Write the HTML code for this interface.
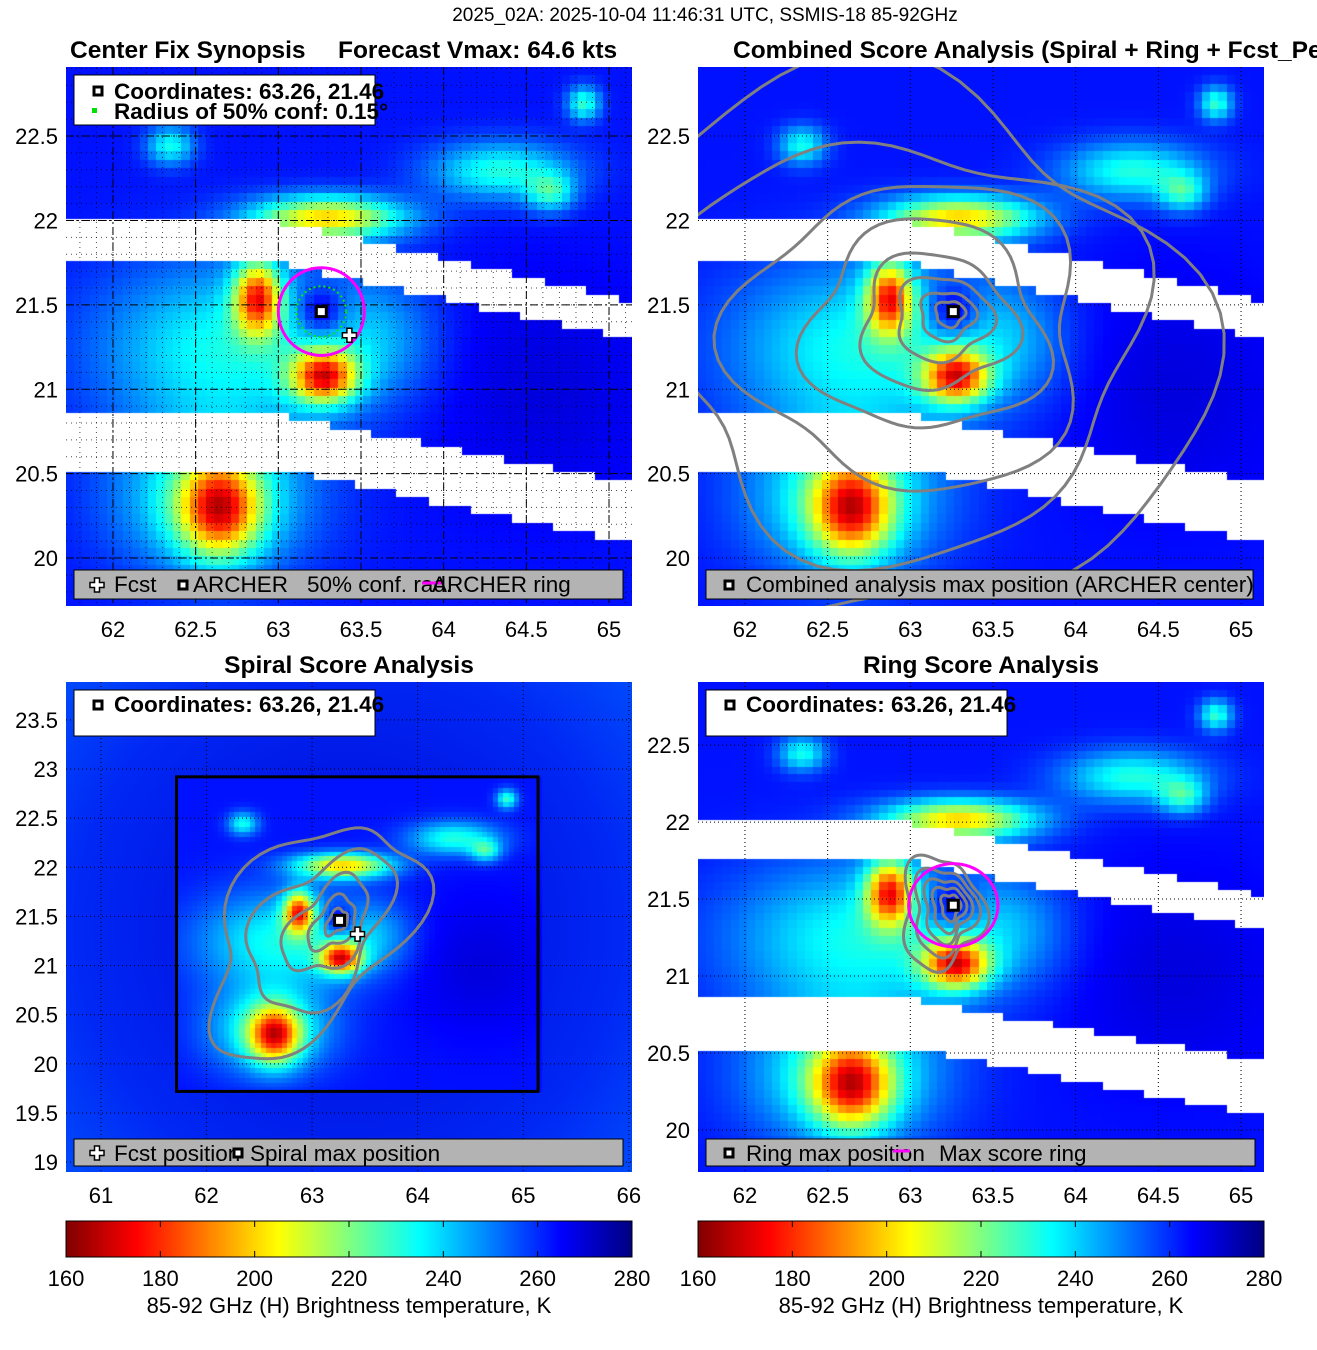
<!DOCTYPE html>
<html><head><meta charset="utf-8">
<style>
body{margin:0;background:#fff;width:1317px;height:1350px;position:relative;overflow:hidden;font-family:"Liberation Sans",sans-serif}
canvas{position:absolute}
svg{position:absolute;left:0;top:0}
</style></head>
<body>
<canvas id="c1" style="left:66px;top:67px" width="566" height="539"></canvas>
<canvas id="c2" style="left:698px;top:67px" width="566" height="539"></canvas>
<canvas id="c3" style="left:66px;top:682px" width="566" height="490"></canvas>
<canvas id="c4" style="left:698px;top:682px" width="566" height="490"></canvas>
<svg id="ov" width="1317" height="1350"></svg>
<script>
// ---- data ----
const baseTb = 263;
const blobLon = [62.7, 64.6, 63.26, 62.88, 63.28, 63.3, 62.65, 62.6, 64.35, 64.65, 64.85, 62.35, 63.6];
const blobLat = [21.25, 21.0, 21.46, 21.55, 21.08, 22.02, 20.3, 20.35, 22.3, 22.17, 22.7, 22.45, 21.3];
const blobDT  = [-30, 6, 22, -70, -75, -62, -65, -32, -32, -28, -34, -30, -15];
const blobSx  = [0.55, 0.5, 0.1, 0.1, 0.14, 0.32, 0.17, 0.4, 0.3, 0.1, 0.07, 0.1, 0.25];
const blobSy  = [0.35, 0.5, 0.1, 0.15, 0.11, 0.09, 0.2, 0.3, 0.12, 0.08, 0.07, 0.08, 0.25];
const gap1Left = [22.0, 21.75], gap1Right = [21.53, 21.3];
const gap2Left = [20.85, 20.53], gap2Right = [20.45, 20.1];
const cbTicks = [160, 180, 200, 220, 240, 260, 280];
const lonTicksA = [62, 62.5, 63, 63.5, 64, 64.5, 65];
const latTicksA = [20, 20.5, 21, 21.5, 22, 22.5];
const lonTicksC = [61, 62, 63, 64, 65, 66];
const latTicksC = [19, 19.5, 20, 20.5, 21, 21.5, 22, 22.5, 23, 23.5];
const latTicksD = [20, 20.5, 21, 21.5, 22, 22.5];
const centerLon = 63.26, centerLat = 21.46;
const fcstLon = 63.43, fcstLat = 21.32;
const contourLevelsB = [0.08, 0.15, 0.26, 0.42, 0.65, 0.95, 1.3, 1.7];
const contourLevelsC = [0.12, 0.25, 0.45, 0.75, 1.1];
const contourLevelsD = [0.07, 0.12, 0.17, 0.23, 0.3];

function field(lon, lat){
  let v = baseTb;
  for(let i=0;i<blobLon.length;i++){
    const dx=(lon-blobLon[i])/blobSx[i], dy=(lat-blobLat[i])/blobSy[i];
    v += blobDT[i]*Math.exp(-0.5*(dx*dx+dy*dy));
  }
  return Math.max(160, Math.min(280, v));
}
function inGap(lon, lat){
  function band(L,R){
    const t = Math.max(0,(lon-63.0)/(65.14-63.0));
    const top = L[0]+(R[0]-L[0])*t, bot = L[1]+(R[1]-L[1])*t;
    return lat<=top && lat>=bot;
  }
  return band(gap1Left,gap1Right)||band(gap2Left,gap2Right);
}
function jet(v){
  const t=(280-v)/120;
  const c=x=>Math.max(0,Math.min(1,x));
  return [c(1.5-Math.abs(4*t-3)),c(1.5-Math.abs(4*t-2)),c(1.5-Math.abs(4*t-1))].map(x=>Math.round(x*255));
}
const P = {
 a:{x:66,y:67,w:566,h:539,lon0:61.716,lon1:65.139,lat0:19.716,lat1:22.909},
 b:{x:698,y:67,w:566,h:539,lon0:61.716,lon1:65.139,lat0:19.716,lat1:22.909},
 c:{x:66,y:682,w:566,h:490,lon0:60.669,lon1:66.03,lat0:18.9,lat1:23.885},
 d:{x:698,y:682,w:566,h:490,lon0:61.716,lon1:65.139,lat0:19.727,lat1:22.91}
};
const sx=(p,lon)=>p.x+(lon-p.lon0)/(p.lon1-p.lon0)*p.w;
const sy=(p,lat)=>p.y+(p.lat1-lat)/(p.lat1-p.lat0)*p.h;

function paint(id,p,gaps){
  const ctx=document.getElementById(id).getContext('2d');
  const step=0.05;
  for(let lon=61.716;lon<65.14;lon+=step){
    for(let lat=19.716;lat<22.91;lat+=step){
      const lc=lon+step/2, la=lat+step/2;
      let col;
      if(gaps&&inGap(lc,la)) col=[255,255,255]; else col=jet(field(lc,la));
      ctx.fillStyle=`rgb(${col})`;
      const x0=sx(p,lon)-p.x, x1=sx(p,lon+step)-p.x, y0=sy(p,lat+step)-p.y, y1=sy(p,lat)-p.y;
      ctx.fillRect(Math.floor(x0),Math.floor(y0),Math.ceil(x1-x0)+1,Math.ceil(y1-y0)+1);
    }
  }
}
(function(){
  const ctx=document.getElementById('c3').getContext('2d');
  const g=ctx.createRadialGradient(283,245,50,283,245,420);
  g.addColorStop(0,'rgb(0,10,220)');g.addColorStop(0.6,'rgb(0,40,245)');g.addColorStop(1,'rgb(0,90,255)');
  ctx.fillStyle=g;ctx.fillRect(0,0,566,490);
})();
paint('c1',P.a,true);paint('c2',P.b,true);paint('c3',P.c,false);paint('c4',P.d,true);

const NS='http://www.w3.org/2000/svg';
const ov=document.getElementById('ov');
function el(tag,attrs,parent){const e=document.createElementNS(NS,tag);for(const k in attrs)e.setAttribute(k,attrs[k]);(parent||ov).appendChild(e);return e;}
function txt(x,y,s,opt){const e=el('text',Object.assign({x:x,y:y,'font-size':22,'font-family':'"Liberation Sans",sans-serif',fill:'#000'},opt||{}));e.textContent=s;return e;}

function axes(p,lonT,latT,name,dashMajor){
  const g=el('g',{});
  
  
  if(dashMajor){
    for(let l=Math.ceil(p.lat0*10)/10;l<p.lat1;l+=0.1){const y=sy(p,l);el('line',{x1:p.x,x2:p.x+p.w,y1:y,y2:y,stroke:'#000','stroke-width':1,'stroke-dasharray':'1 4',opacity:0.7},g);}
    for(let l=Math.ceil(p.lon0*10)/10;l<p.lon1;l+=0.1){const x=sx(p,l);el('line',{y1:p.y,y2:p.y+p.h,x1:x,x2:x,stroke:'#000','stroke-width':1,'stroke-dasharray':'1 4',opacity:0.7},g);}
  }
  lonT.forEach(v=>{const x=sx(p,v);
    el('line',{x1:x,x2:x,y1:p.y,y2:p.y+p.h,stroke:'#000','stroke-width':1,'stroke-dasharray':dashMajor?'8 3 2 3':'1 3'},g);
    const t=txt(x,p.y+p.h+31,String(v),{'text-anchor':'middle'});
    });
  latT.forEach(v=>{const y=sy(p,v);
    el('line',{x1:p.x,x2:p.x+p.w,y1:y,y2:y,stroke:'#000','stroke-width':1,'stroke-dasharray':dashMajor?'8 3 2 3':'1 3'},g);
    const t=txt(p.x-8,y+8,String(v),{'text-anchor':'end'});
    });
}
axes(P.a,lonTicksA,latTicksA,'synopsis',true);
axes(P.b,lonTicksA,latTicksA,'combined',false);
axes(P.c,lonTicksC,latTicksC,'spiral',false);
axes(P.d,lonTicksA,latTicksD,'ring',false);

function contour(p,r,sxs,sys,wob,rot,name){
  let d='';
  const cx=sx(p,centerLon), cy=sy(p,centerLat);
  const kx=p.w/(p.lon1-p.lon0), ky=p.h/(p.lat1-p.lat0);
  for(let i=0;i<=90;i++){
    const a=i/90*2*Math.PI;
    const rr=r*(1+wob*Math.sin(3*a+r*5)+wob*0.6*Math.cos(5*a+r*3));
    let ex=rr*sxs*Math.cos(a), ey=rr*sys*Math.sin(a);
    const X=ex*Math.cos(rot)-ey*Math.sin(rot), Y=ex*Math.sin(rot)+ey*Math.cos(rot);
    const x=cx+X*kx - r*0.25*kx, y=cy-Y*ky + r*0.15*ky;
    d+=(i?'L':'M')+x.toFixed(1)+','+y.toFixed(1);
  }
  const e=el('path',{d:d,fill:'none',stroke:'#808080','stroke-width':3});
  
  
  return e;
}
function clip(id,p){const c=el('clipPath',{id:id});el('rect',{x:p.x,y:p.y,width:p.w,height:p.h},c);}
clip('cb',P.b);clip('cc',P.c);clip('cd',P.d);
contourLevelsB.forEach(r=>{contour(P.b,r,1.1,0.95,0.1,0,'combined-contour').setAttribute('clip-path','url(#cb)');});
contourLevelsC.forEach(r=>{contour(P.c,r,0.7,1.2,0.14,-0.6,'spiral-contour').setAttribute('clip-path','url(#cc)');});
contourLevelsD.forEach(r=>{contour(P.d,r,0.8,1.2,0.15,0,'ring-contour');});

const bx=el('rect',{x:sx(P.c,61.716),y:sy(P.c,22.92),width:sx(P.c,65.14)-sx(P.c,61.716),height:sy(P.c,19.72)-sy(P.c,22.92),fill:'none',stroke:'#000','stroke-width':3});


function ring(p,rad,name,col,w,dash){const kx=p.w/(p.lon1-p.lon0),ky=p.h/(p.lat1-p.lat0);
  const e=el('ellipse',{cx:sx(p,centerLon),cy:sy(p,centerLat),rx:rad*kx,ry:rad*ky,fill:'none',stroke:col,'stroke-width':w,'stroke-dasharray':dash||'none'});
  }
ring(P.a,0.26,'archer-ring','#ff00ff',3);
ring(P.a,0.15,'confidence-circle','#00ee00',2,'2 3');
ring(P.d,0.27,'max-score-ring','#ff00ff',3);

function marker(p,lon,lat,name){const x=sx(p,lon),y=sy(p,lat);
  const e=el('rect',{x:x-5,y:y-5,width:10,height:10,fill:'#fff',stroke:'#000','stroke-width':3});
  }
function cross(x,y,name){const e=el('path',{d:`M${x-2.5},${y-7}h5v4.5h4.5v5h-4.5v4.5h-5v-4.5h-4.5v-5h4.5z`,fill:'#fff',stroke:'#000','stroke-width':1.5});
  }
marker(P.a,centerLon,centerLat,'archer-center');marker(P.b,centerLon,centerLat,'combined-max');
marker(P.c,centerLon,centerLat,'spiral-max');marker(P.d,centerLon,centerLat,'ring-max');
cross(sx(P.a,fcstLon),sy(P.a,fcstLat),'fcst-position');
cross(sx(P.c,fcstLon),sy(P.c,fcstLat),'fcst-position-spiral');

function box(x,y,w,h,fill,name){const e=el('rect',{x:x,y:y,width:w,height:h,fill:fill,stroke:'#000','stroke-width':1});}
function sq(x,y){el('rect',{x:x-4,y:y-4,width:8,height:8,fill:'#fff',stroke:'#000','stroke-width':3});}
const LB={'font-weight':'bold','font-size':22.5};
const LF={'font-size':22.5};
box(74,75,301,50,'#fff','info-legend-synopsis');
sq(98,91);txt(114,99,'Coordinates: 63.26, 21.46',LB);
el('rect',{x:92,y:108,width:5,height:5,fill:'#00e000'});txt(114,119,'Radius of 50% conf: 0.15°',LB);
box(74,570,549,29,'#b3b3b3','bottom-legend-synopsis');
cross(97,585,'legend-fcst-icon');txt(114,592,'Fcst',LF);sq(183,585);txt(193,592,'ARCHER',LF);
txt(307,592,'50% conf. rad.',LF);el('line',{x1:422,x2:442,y1:583,y2:583,stroke:'#ff00ff','stroke-width':3});txt(432,592,'ARCHER ring',LF);
box(706,570,547,29,'#b3b3b3','bottom-legend-combined');
sq(729,585);txt(746,592,'Combined analysis max position (ARCHER center)',LF);
box(74,690,301,46,'#fff','info-legend-spiral');sq(98,705);txt(114,712,'Coordinates: 63.26, 21.46',LB);
box(74,1139,549,27,'#b3b3b3','bottom-legend-spiral');
cross(97,1153,'legend-fcst-icon-spiral');txt(114,1161,'Fcst position',LF);sq(238,1153);txt(250,1161,'Spiral max position',LF);
box(706,690,301,46,'#fff','info-legend-ring');sq(730,705);txt(746,712,'Coordinates: 63.26, 21.46',LB);
box(706,1139,549,27,'#b3b3b3','bottom-legend-ring');
sq(729,1153);txt(746,1161,'Ring max position',LF);el('line',{x1:893,x2:910,y1:1151,y2:1151,stroke:'#ff00ff','stroke-width':3});txt(939,1161,'Max score ring',LF);

txt(705,21,'2025_02A: 2025-10-04 11:46:31 UTC, SSMIS-18 85-92GHz',{'text-anchor':'middle','font-size':19});
const TB={'font-weight':'bold','font-size':24.5};
txt(70,58,'Center Fix Synopsis',TB);
txt(338,58,'Forecast Vmax: 64.6 kts',TB);
txt(733,58,'Combined Score Analysis (Spiral + Ring + Fcst_Pe',TB);
txt(349,673,'Spiral Score Analysis',Object.assign({'text-anchor':'middle'},TB));
txt(981,673,'Ring Score Analysis',Object.assign({'text-anchor':'middle'},TB));

const defs=el('defs',{});const lg=el('linearGradient',{id:'jetg',x1:0,x2:1,y1:0,y2:0},defs);
for(let i=0;i<=24;i++){const v=160+i*5;el('stop',{offset:i/24,'stop-color':`rgb(${jet(v)})`},lg);}
[66,698].forEach((x0)=>{
  const r=el('rect',{x:x0,y:1221,width:566,height:36,fill:'url(#jetg)',stroke:'#000','stroke-width':1});
  
  cbTicks.forEach(v=>{const x=x0+(v-160)/120*566;
    el('line',{x1:x,x2:x,y1:1221,y2:1227,stroke:'#000'});el('line',{x1:x,x2:x,y1:1251,y2:1257,stroke:'#000'});
    const t=txt(x,1286,String(v),{'text-anchor':'middle'});});
  const t=txt(x0+283,1313,'85-92 GHz (H) Brightness temperature, K',{'text-anchor':'middle'});
  
});
</script>
</body></html>
